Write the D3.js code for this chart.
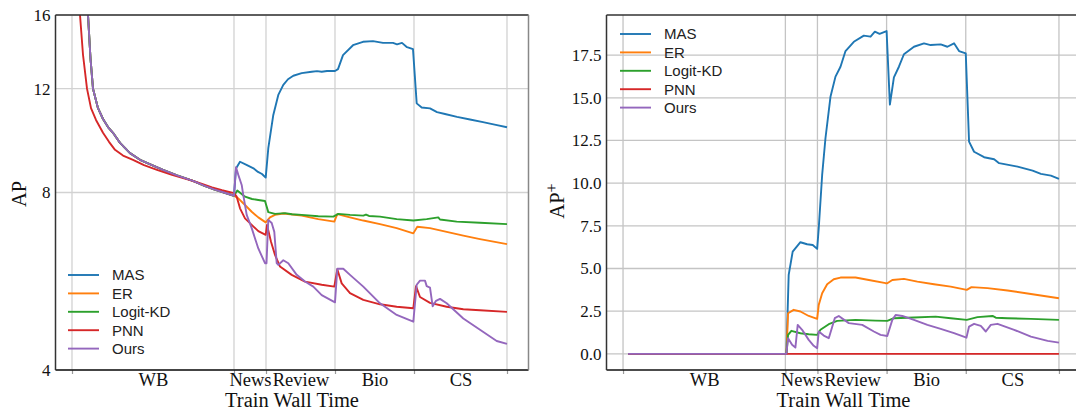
<!DOCTYPE html>
<html>
<head>
<meta charset="utf-8">
<script src="https://cdn.jsdelivr.net/npm/d3@7"></script>
<style>
  html, body { margin: 0; padding: 0; background: #fff; }
  svg { display: block; }
  .serif { font-family: "Liberation Serif", "Times New Roman", serif; }
  .sans { font-family: "Liberation Sans", Arial, sans-serif; }
</style>
</head>
<body>
<script>
// ---------------- DATA ----------------
const taskBoundaries = [0, 162, 194, 263, 342, 435];
const taskLabels = ["WB", "News", "Review", "Bio", "CS"];
const methods = ["MAS", "ER", "Logit-KD", "PNN", "Ours"];
const methodColors = ["#1f77b4", "#ff7f0e", "#2ca02c", "#d62728", "#9467bd"];
const apTicks = [4, 8, 12, 16];
const apPlusTicks = [0, 2.5, 5, 7.5, 10, 12.5, 15, 17.5];

// Left panel (AP), warm-up phase shared by MAS / ER / Logit-KD / Ours
const apWarmup = [[8, 30], [12, 20], [16, 16], [18.5, 13.5], [21, 12.0], [26, 11.12], [31, 10.66], [36, 10.33],
  [41, 10.1], [48, 9.71], [58, 9.33], [68, 9.09], [80, 8.9], [91, 8.74], [105, 8.55], [121, 8.37],
  [132, 8.22], [142, 8.1], [152, 8.0], [162, 7.9]];
const apMAS = [[164, 8.79], [168, 9.02], [175, 8.9], [182, 8.78], [186, 8.67], [190, 8.6], [193.7, 8.48],
  [196.3, 9.51], [201.3, 10.83], [206.3, 11.71], [211.3, 12.18], [216, 12.45], [221.3, 12.62], [229.7, 12.75],
  [239.7, 12.82], [245, 12.85], [249.7, 12.82], [255, 12.86], [263, 12.86], [266, 12.95], [271, 13.68],
  [281, 14.22], [291, 14.41], [301, 14.45], [311, 14.35], [321, 14.35], [325, 14.27], [330, 14.35],
  [335, 14.11], [341, 14.0], [344.7, 11.33], [349.7, 11.15], [358, 11.11], [365, 10.95], [373, 10.87],
  [385, 10.75], [398, 10.64], [411, 10.53], [425, 10.41], [435, 10.32]];
const apER = [[166.3, 7.82], [173, 7.62], [179.7, 7.42], [186.3, 7.26], [193.7, 7.12], [198, 7.26], [203, 7.33],
  [211.3, 7.37], [229.7, 7.31], [246.3, 7.21], [262.3, 7.14], [265.3, 7.35], [278, 7.26], [291.3, 7.17],
  [308, 7.07], [324.7, 6.96], [341.3, 6.82], [345.3, 7.0], [358, 6.96], [374.7, 6.86], [391.3, 6.76],
  [408, 6.67], [435, 6.54]];
const apLogitKD = [[165.3, 8.06], [173, 7.87], [180, 7.80], [186.3, 7.77], [193, 7.74], [196.3, 7.41], [203, 7.36],
  [213, 7.38], [220, 7.35], [229.7, 7.33], [246.3, 7.29], [261.3, 7.28], [266.3, 7.36], [278, 7.33],
  [291.3, 7.31], [294, 7.34], [297, 7.30], [308, 7.28], [324.7, 7.21], [341.3, 7.17], [354.7, 7.21],
  [366.3, 7.26], [368, 7.20], [384.7, 7.14], [408, 7.11], [435, 7.07]];
const apPNN = [[5, 22], [8, 16], [11, 13.7], [15, 12.0], [19, 11.12], [24, 10.62], [31, 10.1], [37, 9.75],
  [43, 9.45], [51, 9.24], [61, 9.09], [72, 8.9], [85, 8.74], [100, 8.57], [118, 8.40], [130, 8.27],
  [140, 8.16], [150, 8.07], [162, 7.98], [164.7, 7.87], [168, 7.52], [173, 7.23], [179.7, 7.05],
  [186.3, 6.88], [193.7, 6.78], [195, 7.05], [199, 6.6], [203, 6.27], [208, 5.99], [219.7, 5.80],
  [233, 5.65], [249.7, 5.58], [262.3, 5.54], [265.3, 5.93], [269.7, 5.61], [278, 5.40], [291.3, 5.26],
  [308, 5.17], [324.7, 5.12], [341.3, 5.09], [344, 5.55], [348, 5.32], [358, 5.20], [374.7, 5.12],
  [391.3, 5.07], [408, 5.05], [435, 5.02]];
const apOurs = [[164, 8.83], [166.3, 8.57], [169.7, 8.24], [171.3, 7.92], [174.7, 7.33], [179.7, 6.96],
  [186.3, 6.43], [193, 6.07], [194.5, 6.07], [196.3, 7.19], [199.7, 7.10], [202.3, 6.86], [204.7, 6.07],
  [206.3, 6.03], [211.3, 6.14], [216.3, 6.07], [224.7, 5.80], [233, 5.65], [241.3, 5.54], [249.7, 5.36],
  [263, 5.21], [265.3, 5.94], [271.3, 5.94], [278, 5.80], [291.3, 5.54], [308, 5.19], [324.7, 4.96],
  [341.3, 4.83], [344.7, 5.58], [348, 5.67], [353, 5.67], [354.7, 5.55], [358, 5.52], [360.7, 5.13],
  [364, 5.24], [368, 5.28], [374.7, 5.19], [391.3, 4.89], [408, 4.68], [424.7, 4.48], [435, 4.43]];

// Right panel (AP+)
const apPlusMAS = [[5, 0], [163, 0], [165.3, 4.63], [169.3, 5.99], [177, 6.54], [183.7, 6.42], [189.3, 6.38],
  [193.7, 6.15], [195.3, 7.36], [198.7, 10.48], [202, 12.63], [207, 15.06], [212, 16.24], [217, 16.82],
  [222, 17.74], [230.3, 18.28], [240.3, 18.64], [247, 18.58], [251.3, 18.87], [256, 18.75], [263, 18.91],
  [266.3, 14.6], [270.3, 16.2], [275.3, 16.82], [280.3, 17.55], [290.3, 17.99], [300.3, 18.19], [307, 18.09],
  [317, 18.13], [323.7, 17.99], [330.3, 18.19], [335.3, 17.74], [342, 17.6], [345.3, 12.43], [350.3, 11.84],
  [360.3, 11.52], [370.3, 11.4], [375.3, 11.17], [393.7, 10.97], [408.7, 10.73], [417, 10.54], [427, 10.44],
  [435, 10.25]];
const apPlusER = [[5, 0], [163, 0], [164.7, 2.38], [170.3, 2.58], [177, 2.48], [185.3, 2.22], [193.7, 2.05],
  [195.3, 2.87], [198.7, 3.55], [203.7, 4.08], [210.3, 4.37], [217, 4.47], [232, 4.47], [245.3, 4.33],
  [262, 4.14], [263.7, 4.14], [268.7, 4.33], [280.3, 4.39], [293.7, 4.23], [310.3, 4.08], [327, 3.94],
  [343, 3.75], [347.7, 3.91], [363.7, 3.85], [383.7, 3.71], [407, 3.51], [435, 3.26]];
const apPlusLogitKD = [[5, 0], [163, 0], [164.7, 1.11], [168, 1.35], [177, 1.21], [185.3, 1.15], [193.7, 1.11],
  [197, 1.41], [205.3, 1.74], [213.7, 1.93], [232, 1.99], [252, 1.95], [263.7, 1.93], [270.3, 2.09],
  [290.3, 2.13], [312, 2.18], [327, 2.09], [343, 1.99], [353.7, 2.15], [368.7, 2.22], [372, 2.12],
  [383.7, 2.09], [407, 2.05], [435, 1.99]];
const apPlusPNN = [[5, 0], [435, 0]];
const apPlusOurs = [[5, 0], [163, 0], [164.7, 0.92], [168.7, 0.53], [172, 0.37], [174.3, 1.70], [178.7, 1.41],
  [185.3, 0.82], [190.3, 0.47], [193.7, 0.33], [195.3, 1.31], [200.3, 1.07], [205.3, 0.92], [211.3, 2.09],
  [215.3, 2.22], [225.3, 1.80], [238.7, 1.70], [250.3, 1.31], [257, 1.11], [263.7, 1.05], [268.7, 1.99],
  [272, 2.28], [278.7, 2.22], [290.3, 1.99], [303.7, 1.70], [317, 1.46], [330.3, 1.21], [342.7, 0.95],
  [345.3, 1.60], [350.3, 1.76], [357, 1.64], [362, 1.31], [367, 1.70], [373.7, 1.76], [390.3, 1.41],
  [407, 1.01], [423.7, 0.76], [435, 0.66]];

// ---------------- CHART ----------------
const W = 1076, H = 412;
const svg = d3.select("body").append("svg").attr("width", W).attr("height", H);

const leftSeries = [
  apWarmup.concat(apMAS), apWarmup.concat(apER), apWarmup.concat(apLogitKD), apPNN, apWarmup.concat(apOurs)
];
const rightSeries = [apPlusMAS, apPlusER, apPlusLogitKD, apPlusPNN, apPlusOurs];

const xDomain = [-16.5, 456.5];
const plotTop = 15, plotBottom = 370;

function drawPanel(opts) {
  const g = svg.append("g");
  const x = d3.scaleLinear().domain(xDomain).range(opts.xRange);
  const y = opts.y;
  const [x0, x1] = opts.xRange;
  const clipId = "clip" + opts.id;
  svg.append("clipPath").attr("id", clipId).append("rect")
    .attr("x", x0).attr("y", plotTop).attr("width", x1 - x0).attr("height", plotBottom - plotTop);

  // grid
  const grid = g.append("g");
  grid.selectAll("line.v").data(taskBoundaries).join("line").attr("class", "v")
    .attr("x1", d => x(d)).attr("x2", d => x(d)).attr("y1", plotTop).attr("y2", plotBottom)
    .attr("stroke", opts.gridColor).attr("stroke-width", 1.3);
  grid.selectAll("line.h").data(opts.yTicks).join("line").attr("class", "h")
    .attr("x1", x0).attr("x2", x1).attr("y1", d => y(d)).attr("y2", d => y(d))
    .attr("stroke", opts.gridColor).attr("stroke-width", 1.3);

  // lines
  const line = d3.line().x(d => x(d[0])).y(d => y(d[1]));
  const lg = g.append("g").attr("clip-path", `url(#${clipId})`);
  opts.series.forEach((s, i) => {
    lg.append("path").datum(s).attr("d", line)
      .attr("fill", "none").attr("stroke", methodColors[i]).attr("stroke-width", 1.9)
      .attr("stroke-linejoin", "round");
  });

  // y axis labels
  const yAxis = d3.axisLeft(y).tickValues(opts.yTicks).tickSize(0).tickPadding(5)
    .tickFormat(opts.yFormat);
  const ya = g.append("g").attr("transform", `translate(${x0},0)`).call(yAxis);
  ya.select(".domain").remove();
  ya.selectAll("text").attr("class", "serif").attr("font-size", 17).attr("fill", "#111");

  // x axis ticks at boundaries
  const xAxis = d3.axisBottom(x).tickValues(taskBoundaries).tickSize(4).tickFormat("");
  const xa = g.append("g").attr("transform", `translate(0,${plotBottom})`).call(xAxis);
  xa.select(".domain").remove();
  xa.selectAll("line").attr("stroke", "#999").attr("stroke-width", 1.2);

  // x task labels at midpoints
  const mids = taskLabels.map((_, i) => (taskBoundaries[i] + taskBoundaries[i + 1]) / 2);
  const xl = d3.axisBottom(x).tickValues(mids).tickSize(0).tickPadding(3)
    .tickFormat((d, i) => taskLabels[i]);
  const xla = g.append("g").attr("transform", `translate(0,${plotBottom})`).call(xl);
  xla.select(".domain").remove();
  xla.selectAll("text").attr("class", "serif").attr("font-size", 18.5).attr("fill", "#111");

  // spines
  const sp = g.append("g").attr("fill", "none").attr("stroke-width", 1.5);
  sp.append("line").attr("x1", x0).attr("x2", x1).attr("y1", plotTop).attr("y2", plotTop).attr("stroke", "#333");
  sp.append("line").attr("x1", x0).attr("x2", x1).attr("y1", plotBottom).attr("y2", plotBottom).attr("stroke", "#111");
  sp.append("line").attr("x1", x0).attr("x2", x0).attr("y1", plotTop).attr("y2", plotBottom).attr("stroke", "#333");
  sp.append("line").attr("x1", x1).attr("x2", x1).attr("y1", plotTop).attr("y2", plotBottom).attr("stroke", "#888");

  // axis titles
  g.append("text").attr("class", "serif").attr("font-size", 20.5).attr("fill", "#111")
    .attr("text-anchor", "middle").attr("x", (x0 + x1) / 2).attr("y", 407)
    .text("Train Wall Time");
  const yt = g.append("text").attr("class", "serif").attr("font-size", 20.5).attr("fill", "#111")
    .attr("text-anchor", "middle")
    .attr("transform", `translate(${opts.yTitleX},${opts.yTitleY}) rotate(-90)`);
  yt.append("tspan").text("AP");
  if (opts.plus) {
    yt.append("tspan").attr("font-size", 16).attr("dy", -7).text("+");
  }

  // legend
  const leg = g.append("g");
  methods.forEach((m, i) => {
    const yy = opts.legendY + i * 18.4;
    leg.append("line").attr("x1", opts.legendX).attr("x2", opts.legendX + 31)
      .attr("y1", yy).attr("y2", yy).attr("stroke", methodColors[i]).attr("stroke-width", 1.9);
    leg.append("text").attr("class", "sans").attr("font-size", 15).attr("fill", "#222")
      .attr("x", opts.legendX + 44).attr("y", yy).attr("dy", "0.36em").text(m);
  });
}

drawPanel({
  id: "L",
  xRange: [55.5, 528.5],
  y: d3.scaleLog().domain([4, 16]).range([plotBottom, plotTop]),
  yTicks: apTicks,
  yFormat: d3.format("d"),
  series: leftSeries,
  gridColor: "#d2d2d2",
  yTitleX: 26, yTitleY: 194,
  plus: false,
  legendX: 68, legendY: 275
});

drawPanel({
  id: "R",
  xRange: [606.5, 1080.5],
  y: d3.scaleLinear().domain([-0.945, 19.85]).range([plotBottom, plotTop]),
  yTicks: apPlusTicks,
  yFormat: d3.format(".1f"),
  series: rightSeries,
  gridColor: "#c4c4c4",
  yTitleX: 564, yTitleY: 201,
  plus: true,
  legendX: 620, legendY: 34
});
</script>
</body>
</html>
